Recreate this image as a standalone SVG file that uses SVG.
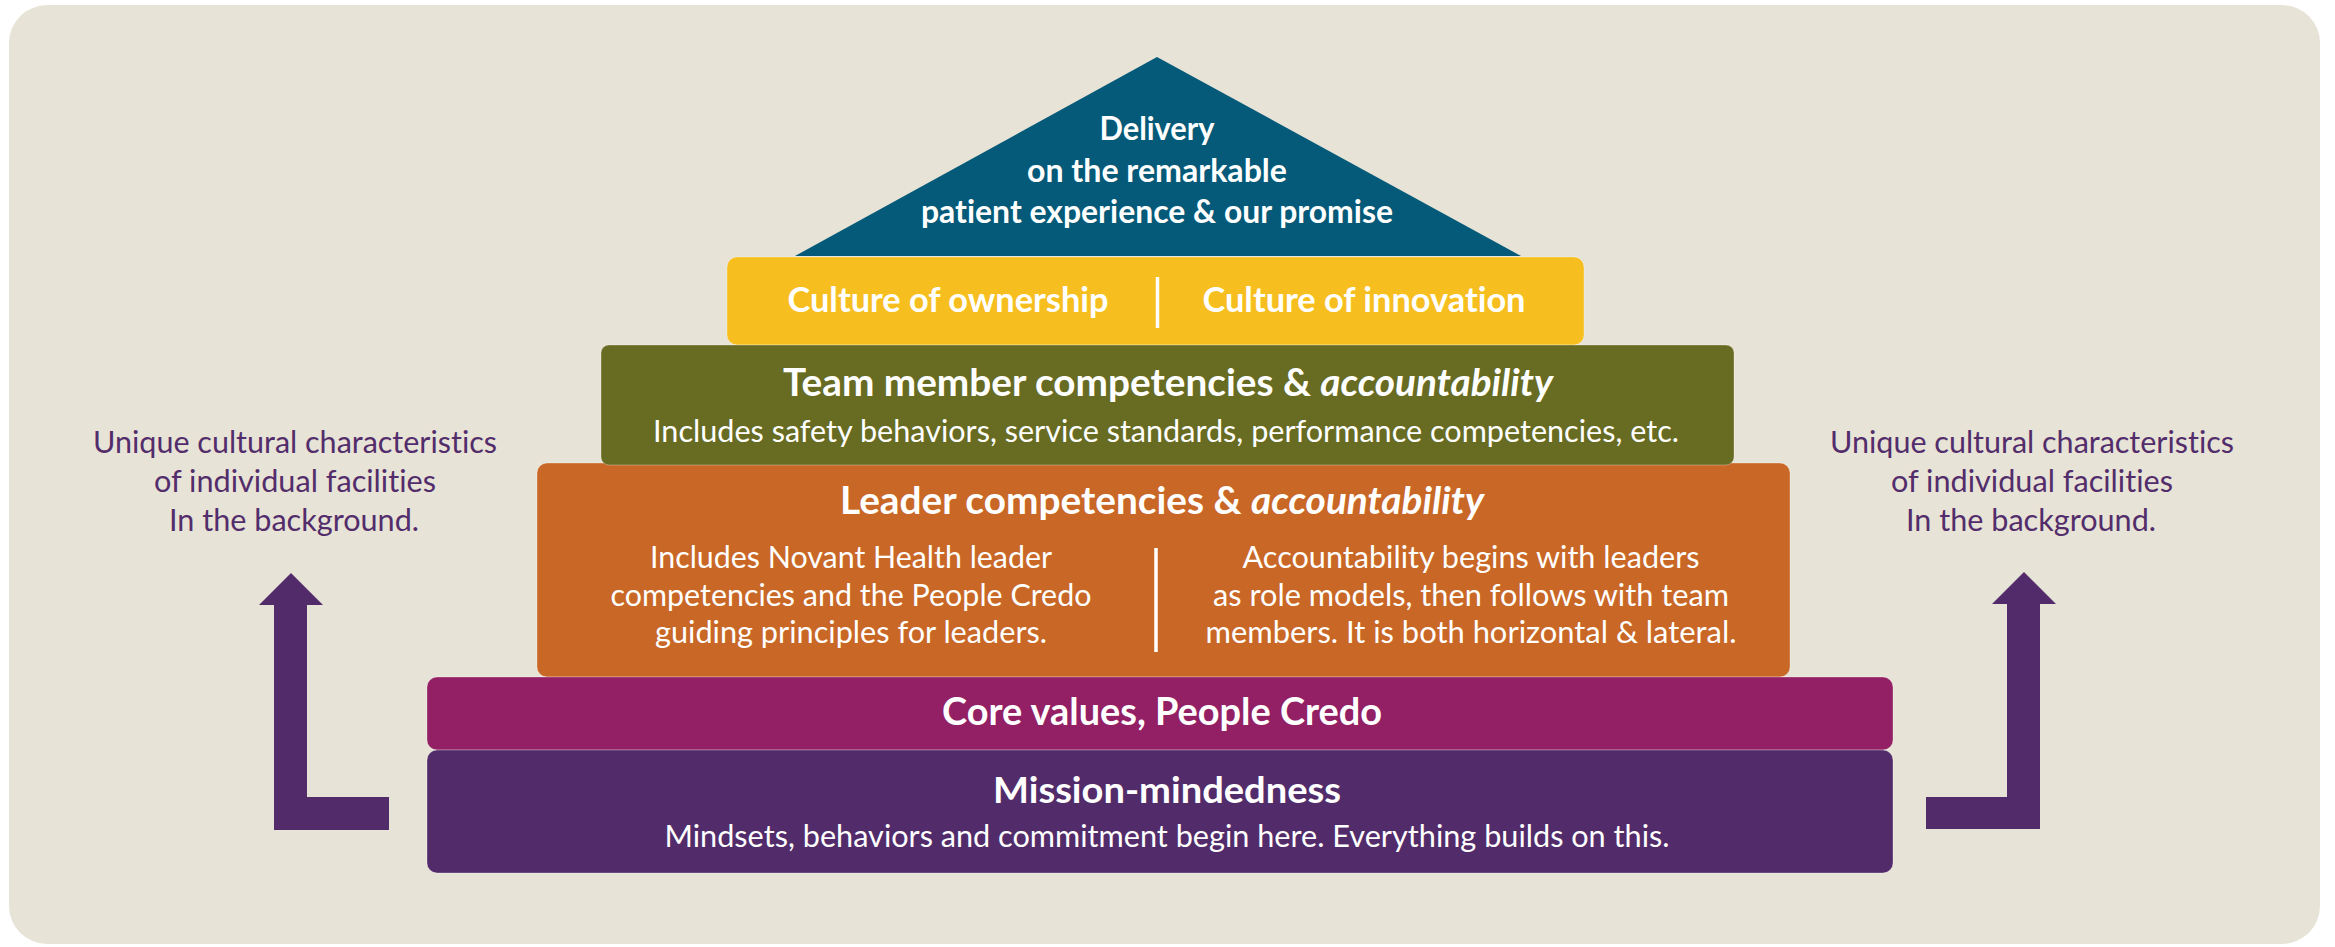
<svg xmlns="http://www.w3.org/2000/svg" width="2335" height="947" viewBox="0 0 2335 947">
  <style>
    text { font-family: Lato, "Open Sans", "Liberation Sans", sans-serif; text-anchor: middle; font-variant-ligatures: none; font-feature-settings: "liga" 0, "dlig" 0; }
    .bold { font-weight: 700; fill: #ffffff; }
    .body { font-weight: 400; fill: #ffffff; font-size: 31px; }
    .side { font-weight: 400; fill: #532D6B; font-size: 31px; }
    .tier { stroke: #ffffff; stroke-opacity: 0.3; stroke-width: 1; }
    .divider { stroke: #ffffff; stroke-width: 3.5; }
    .arrow { fill: #522C6A; }
  </style>

  <!-- canvas -->
  <rect x="0" y="0" width="2335" height="947" fill="#ffffff"/>
  <rect x="9" y="5" width="2311" height="939" rx="38" ry="38" fill="#E7E3D6"/>

  <!-- roof -->
  <g id="roof">
    <polygon points="1157,57 795,256 1521,256" fill="#045A78"/>
    <text class="bold" font-size="32" x="1157" y="140" textLength="115" lengthAdjust="spacingAndGlyphs">Delivery</text>
    <text class="bold" font-size="32" x="1157" y="182" textLength="260" lengthAdjust="spacingAndGlyphs">on the remarkable</text>
    <text class="bold" font-size="32" x="1157" y="223" textLength="472" lengthAdjust="spacingAndGlyphs">patient experience &amp; our promise</text>
  </g>

  <!-- culture band -->
  <g id="culture">
    <rect class="tier" x="727" y="257" width="857" height="88" rx="10" fill="#F6BF1F"/>
    <line class="divider" x1="1157.5" y1="277" x2="1157.5" y2="328"/>
    <text class="bold" font-size="34.5" x="948" y="312" textLength="321" lengthAdjust="spacingAndGlyphs">Culture of ownership</text>
    <text class="bold" font-size="34.5" x="1364" y="312" textLength="323" lengthAdjust="spacingAndGlyphs">Culture of innovation</text>
  </g>

  <!-- leader tier (drawn before team tier so the team tier overlaps it) -->
  <g id="leader">
    <rect class="tier" x="537" y="463" width="1253" height="214" rx="10" fill="#C96726"/>
    <text class="bold" font-size="38" x="1162" y="514" textLength="644" lengthAdjust="spacingAndGlyphs">Leader competencies &amp; <tspan font-style="italic">accountability</tspan></text>
    <line class="divider" x1="1156" y1="548" x2="1156" y2="652"/>
    <text class="body" x="851" y="568" textLength="402" lengthAdjust="spacingAndGlyphs">Includes Novant Health leader</text>
    <text class="body" x="851" y="606" textLength="481" lengthAdjust="spacingAndGlyphs">competencies and the People Credo</text>
    <text class="body" x="851" y="643" textLength="392" lengthAdjust="spacingAndGlyphs">guiding principles for leaders.</text>
    <text class="body" x="1471" y="568" textLength="457" lengthAdjust="spacingAndGlyphs">Accountability begins with leaders</text>
    <text class="body" x="1471" y="606" textLength="516" lengthAdjust="spacingAndGlyphs">as role models, then follows with team</text>
    <text class="body" x="1471" y="643" textLength="531" lengthAdjust="spacingAndGlyphs">members. It is both horizontal &amp; lateral.</text>
  </g>

  <!-- team member tier -->
  <g id="team">
    <rect class="tier" x="601" y="345" width="1133" height="120" rx="8" fill="#686B22"/>
    <text class="bold" font-size="38" x="1168" y="396" textLength="770" lengthAdjust="spacingAndGlyphs">Team member competencies &amp; <tspan font-style="italic">accountability</tspan></text>
    <text class="body" x="1166" y="442" textLength="1026" lengthAdjust="spacingAndGlyphs">Includes safety behaviors, service standards, performance competencies, etc.</text>
  </g>

  <!-- core values tier -->
  <g id="core-values">
    <rect class="tier" x="427" y="677" width="1466" height="73" rx="10" fill="#931F65"/>
    <text class="bold" font-size="38" x="1162" y="725" textLength="440" lengthAdjust="spacingAndGlyphs">Core values, People Credo</text>
  </g>

  <!-- foundation tier -->
  <g id="mission">
    <rect class="tier" x="427" y="750" width="1466" height="123" rx="10" fill="#522C6A"/>
    <text class="bold" font-size="36" x="1167" y="803" textLength="348" lengthAdjust="spacingAndGlyphs">Mission-mindedness</text>
    <text class="body" x="1167" y="847" textLength="1005" lengthAdjust="spacingAndGlyphs">Mindsets, behaviors and commitment begin here. Everything builds on this.</text>
  </g>

  <!-- side notes -->
  <g id="note-left">
    <text class="side" x="295" y="453" textLength="404" lengthAdjust="spacingAndGlyphs">Unique cultural characteristics</text>
    <text class="side" x="295" y="492" textLength="282" lengthAdjust="spacingAndGlyphs">of individual facilities</text>
    <text class="side" x="294" y="531" textLength="250" lengthAdjust="spacingAndGlyphs">In the background.</text>
  </g>
  <g id="note-right">
    <text class="side" x="2032" y="453" textLength="404" lengthAdjust="spacingAndGlyphs">Unique cultural characteristics</text>
    <text class="side" x="2032" y="492" textLength="282" lengthAdjust="spacingAndGlyphs">of individual facilities</text>
    <text class="side" x="2031" y="531" textLength="250" lengthAdjust="spacingAndGlyphs">In the background.</text>
  </g>

  <!-- bent arrows rising from the foundation to the side notes -->
  <g id="connectors">
    <polygon class="arrow" points="291,573 323,605 307,605 307,797 389,797 389,830 274,830 274,605 259,605"/>
    <polygon class="arrow" points="2024,572 2056,604 2040,604 2040,829 1926,829 1926,797 2007,797 2007,604 1992,604"/>
  </g>
</svg>
